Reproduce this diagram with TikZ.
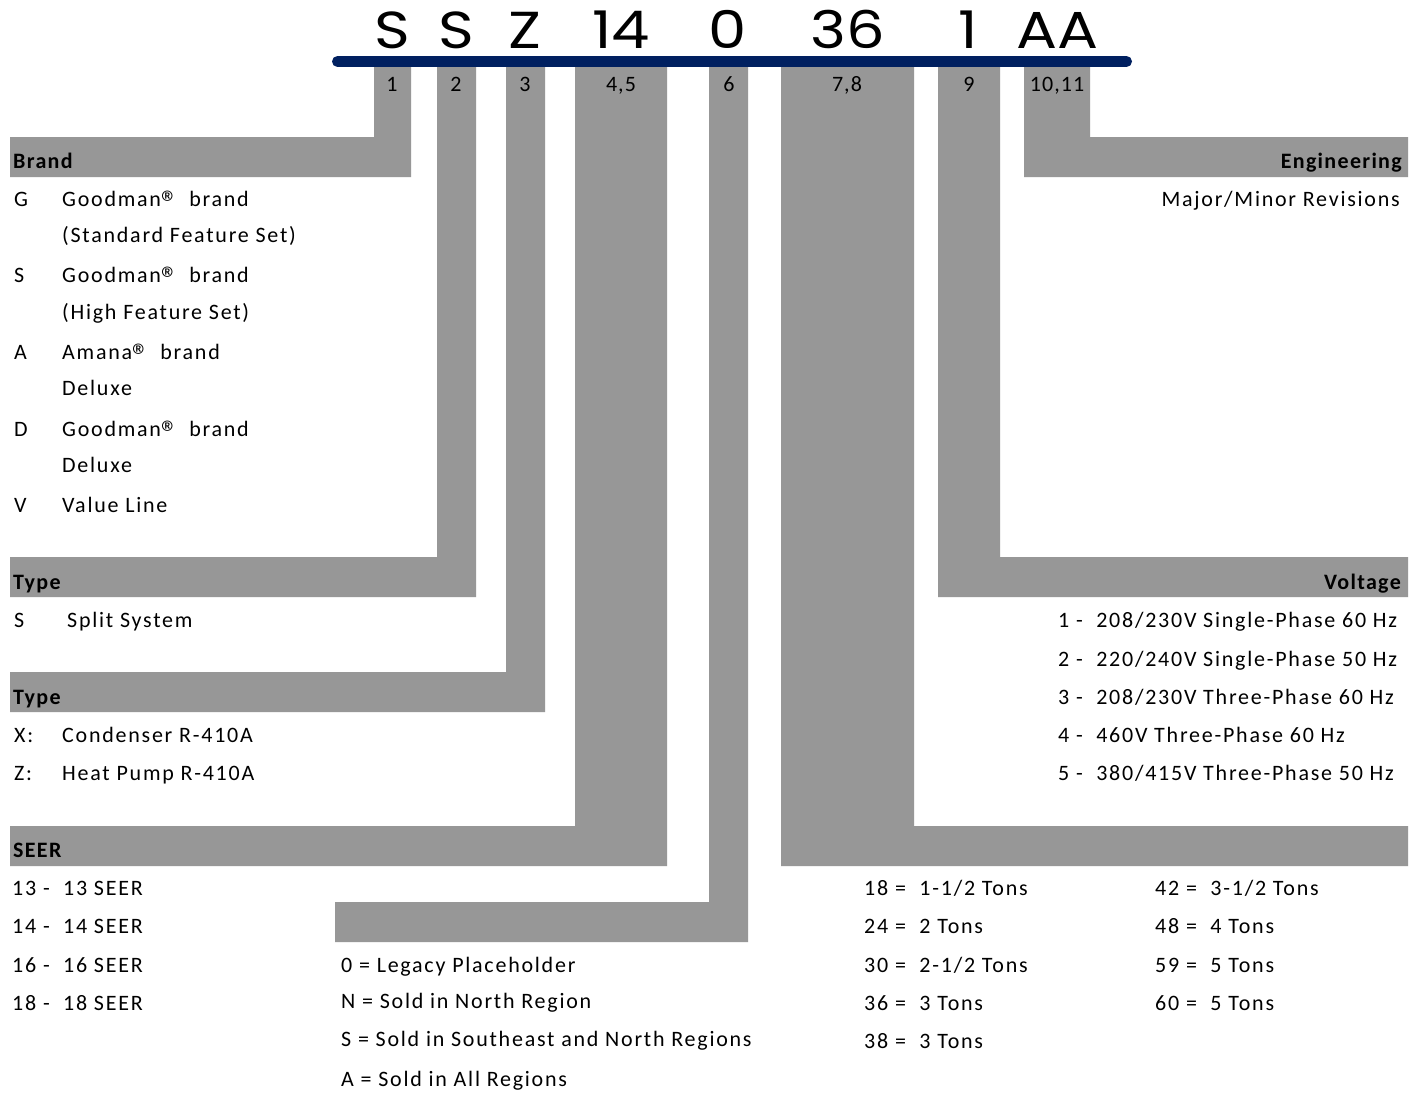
\documentclass[tikz,border=0pt]{standalone}
\usepackage{fontspec}
\setmainfont{Carlito}[LetterSpace=8, BoldFeatures={LetterSpace=6}]
\newfontfamily\posfont{Carlito}[LetterSpace=5]
\newfontfamily\codefont{Poppins}
\newcommand{\regmark}{\raisebox{-8pt}{\fontsize{34}{34}\selectfont ®}\hspace{11pt}}
\definecolor{tabgray}{RGB}{151,151,151}
\definecolor{codenavy}{RGB}{0,32,96}
\begin{document}
\begin{tikzpicture}[x=1pt,y=-1pt,
  tabshape/.style={fill=tabgray, draw=none},
  txt/.style={inner sep=0pt, anchor=base west, font=\fontsize{22}{26}\selectfont},
  txtr/.style={txt, anchor=base east},
  hdr/.style={txt, font=\fontsize{22}{26}\selectfont\bfseries},
  hdrr/.style={hdr, anchor=base east},
  codetxt/.style={inner sep=0pt, anchor=base, xscale=1.17, transform shape, font=\codefont\fontsize{52}{60}\selectfont},
  postxt/.style={inner sep=0pt, anchor=base, font=\posfont\fontsize{22}{26}\selectfont}]
\fill[white] (0,0) rectangle (1423,1093);
\useasboundingbox (0,0) rectangle (1423,1093);

% gray L-shaped leaders
\fill[tabshape] (374,62) -- (411,62) -- (411,177) -- (10,177) -- (10,137) -- (374,137) -- cycle;
\fill[tabshape] (437,62) -- (476,62) -- (476,597) -- (10,597) -- (10,557) -- (437,557) -- cycle;
\fill[tabshape] (506,62) -- (545,62) -- (545,712) -- (10,712) -- (10,672) -- (506,672) -- cycle;
\fill[tabshape] (575,62) -- (667,62) -- (667,866) -- (10,866) -- (10,826) -- (575,826) -- cycle;
\fill[tabshape] (709,62) -- (748,62) -- (748,942) -- (335,942) -- (335,902) -- (709,902) -- cycle;
\fill[tabshape] (781,62) -- (914,62) -- (914,826) -- (1408,826) -- (1408,866) -- (781,866) -- cycle;
\fill[tabshape] (938,62) -- (1000,62) -- (1000,557) -- (1408,557) -- (1408,597) -- (938,597) -- cycle;
\fill[tabshape] (1024,62) -- (1090,62) -- (1090,137) -- (1408,137) -- (1408,177) -- (1024,177) -- cycle;

% blue bar
\draw[codenavy, line width=11, line cap=round] (337.5,61.5) -- (1126.5,61.5);

% model code
\node[codetxt] (cS1) at (392,48) {S};
\node[codetxt] (cS2) at (456,48) {S};
\node[codetxt] (cZ) at (525,48) {Z};
\node[codetxt] (c14) at (621,48) {14};
\node[codetxt] (c0) at (728,48) {0};
\node[codetxt] (c36) at (848,48) {36};
\node[codetxt] (c1) at (968,48) {1};
\node[codetxt] (cAA) at (1057,48) {AA};

% position numbers
\node[postxt] (p1) at (392,91) {1};
\node[postxt] (p2) at (456,91) {2};
\node[postxt] (p3) at (525,91) {3};
\node[postxt] (p45) at (621,91) {4,5};
\node[postxt] (p6) at (729,91) {6};
\node[postxt] (p78) at (847,91) {7,8};
\node[postxt] (p9) at (969,91) {9};
\node[postxt] (p1011) at (1057,91) {10,11};

% Brand
\node[hdr] (hBrand) at (13,168) {Brand};
\node[txt] (bG) at (14,206) {G};
\node[txt] (bG1) at (62,206) {Goodman\regmark brand};
\node[txt] (bG2) at (62,242) {(Standard Feature Set)};
\node[txt] (bS) at (14,282) {S};
\node[txt] (bS1) at (62,282) {Goodman\regmark brand};
\node[txt] (bS2) at (62,319) {(High Feature Set)};
\node[txt] (bA) at (14,359) {A};
\node[txt] (bA1) at (62,359) {Amana\regmark brand};
\node[txt] (bA2) at (62,395) {Deluxe};
\node[txt] (bD) at (14,436) {D};
\node[txt] (bD1) at (62,436) {Goodman\regmark brand};
\node[txt] (bD2) at (62,472) {Deluxe};
\node[txt] (bV) at (14,512) {V};
\node[txt] (bV1) at (62,512) {Value Line};

% Type 1
\node[hdr] (hType1) at (13,589) {Type};
\node[txt] (tS) at (14,627) {S};
\node[txt] (tS1) at (67,627) {Split System};

% Type 2
\node[hdr] (hType2) at (13,704) {Type};
\node[txt] (tX) at (14,742) {X:};
\node[txt] (tX1) at (62,742) {Condenser R-410A};
\node[txt] (tZ) at (14,780) {Z:};
\node[txt] (tZ1) at (62,780) {Heat Pump R-410A};

% SEER
\node[hdr] (hSEER) at (13,857) {SEER};
\node[txt] (s13) at (12,895) {13 -\ \ 13 SEER};
\node[txt] (s14) at (12,933) {14 -\ \ 14 SEER};
\node[txt] (s16) at (12,972) {16 -\ \ 16 SEER};
\node[txt] (s18) at (12,1010) {18 -\ \ 18 SEER};

% Regions
\node[txt] (r0) at (341,972) {0 = Legacy Placeholder};
\node[txt] (rN) at (341,1008) {N = Sold in North Region};
\node[txt] (rS) at (341,1046) {S = Sold in Southeast and North Regions};
\node[txt] (rA) at (341,1086) {A = Sold in All Regions};

% Tons
\node[txt] (n18) at (864,895) {18 =\ \ 1-1/2 Tons};
\node[txt] (n24) at (864,933) {24 =\ \ 2 Tons};
\node[txt] (n30) at (864,972) {30 =\ \ 2-1/2 Tons};
\node[txt] (n36) at (864,1010) {36 =\ \ 3 Tons};
\node[txt] (n38) at (864,1048) {38 =\ \ 3 Tons};
\node[txt] (n42) at (1155,895) {42 =\ \ 3-1/2 Tons};
\node[txt] (n48) at (1155,933) {48 =\ \ 4 Tons};
\node[txt] (n59) at (1155,972) {59 =\ \ 5 Tons};
\node[txt] (n60) at (1155,1010) {60 =\ \ 5 Tons};

% Engineering
\node[hdrr] (hEng) at (1402,168) {Engineering};
\node[txtr] (eRev) at (1400,206) {Major/Minor Revisions};

% Voltage
\node[hdrr] (hVolt) at (1401,589) {Voltage};
\node[txt] (v1) at (1058,627) {1 -\ \ 208/230V Single-Phase 60 Hz};
\node[txt] (v2) at (1058,666) {2 -\ \ 220/240V Single-Phase 50 Hz};
\node[txt] (v3) at (1058,704) {3 -\ \ 208/230V Three-Phase 60 Hz};
\node[txt] (v4) at (1058,742) {4 -\ \ 460V Three-Phase 60 Hz};
\node[txt] (v5) at (1058,780) {5 -\ \ 380/415V Three-Phase 50 Hz};
\end{tikzpicture}
\end{document}
